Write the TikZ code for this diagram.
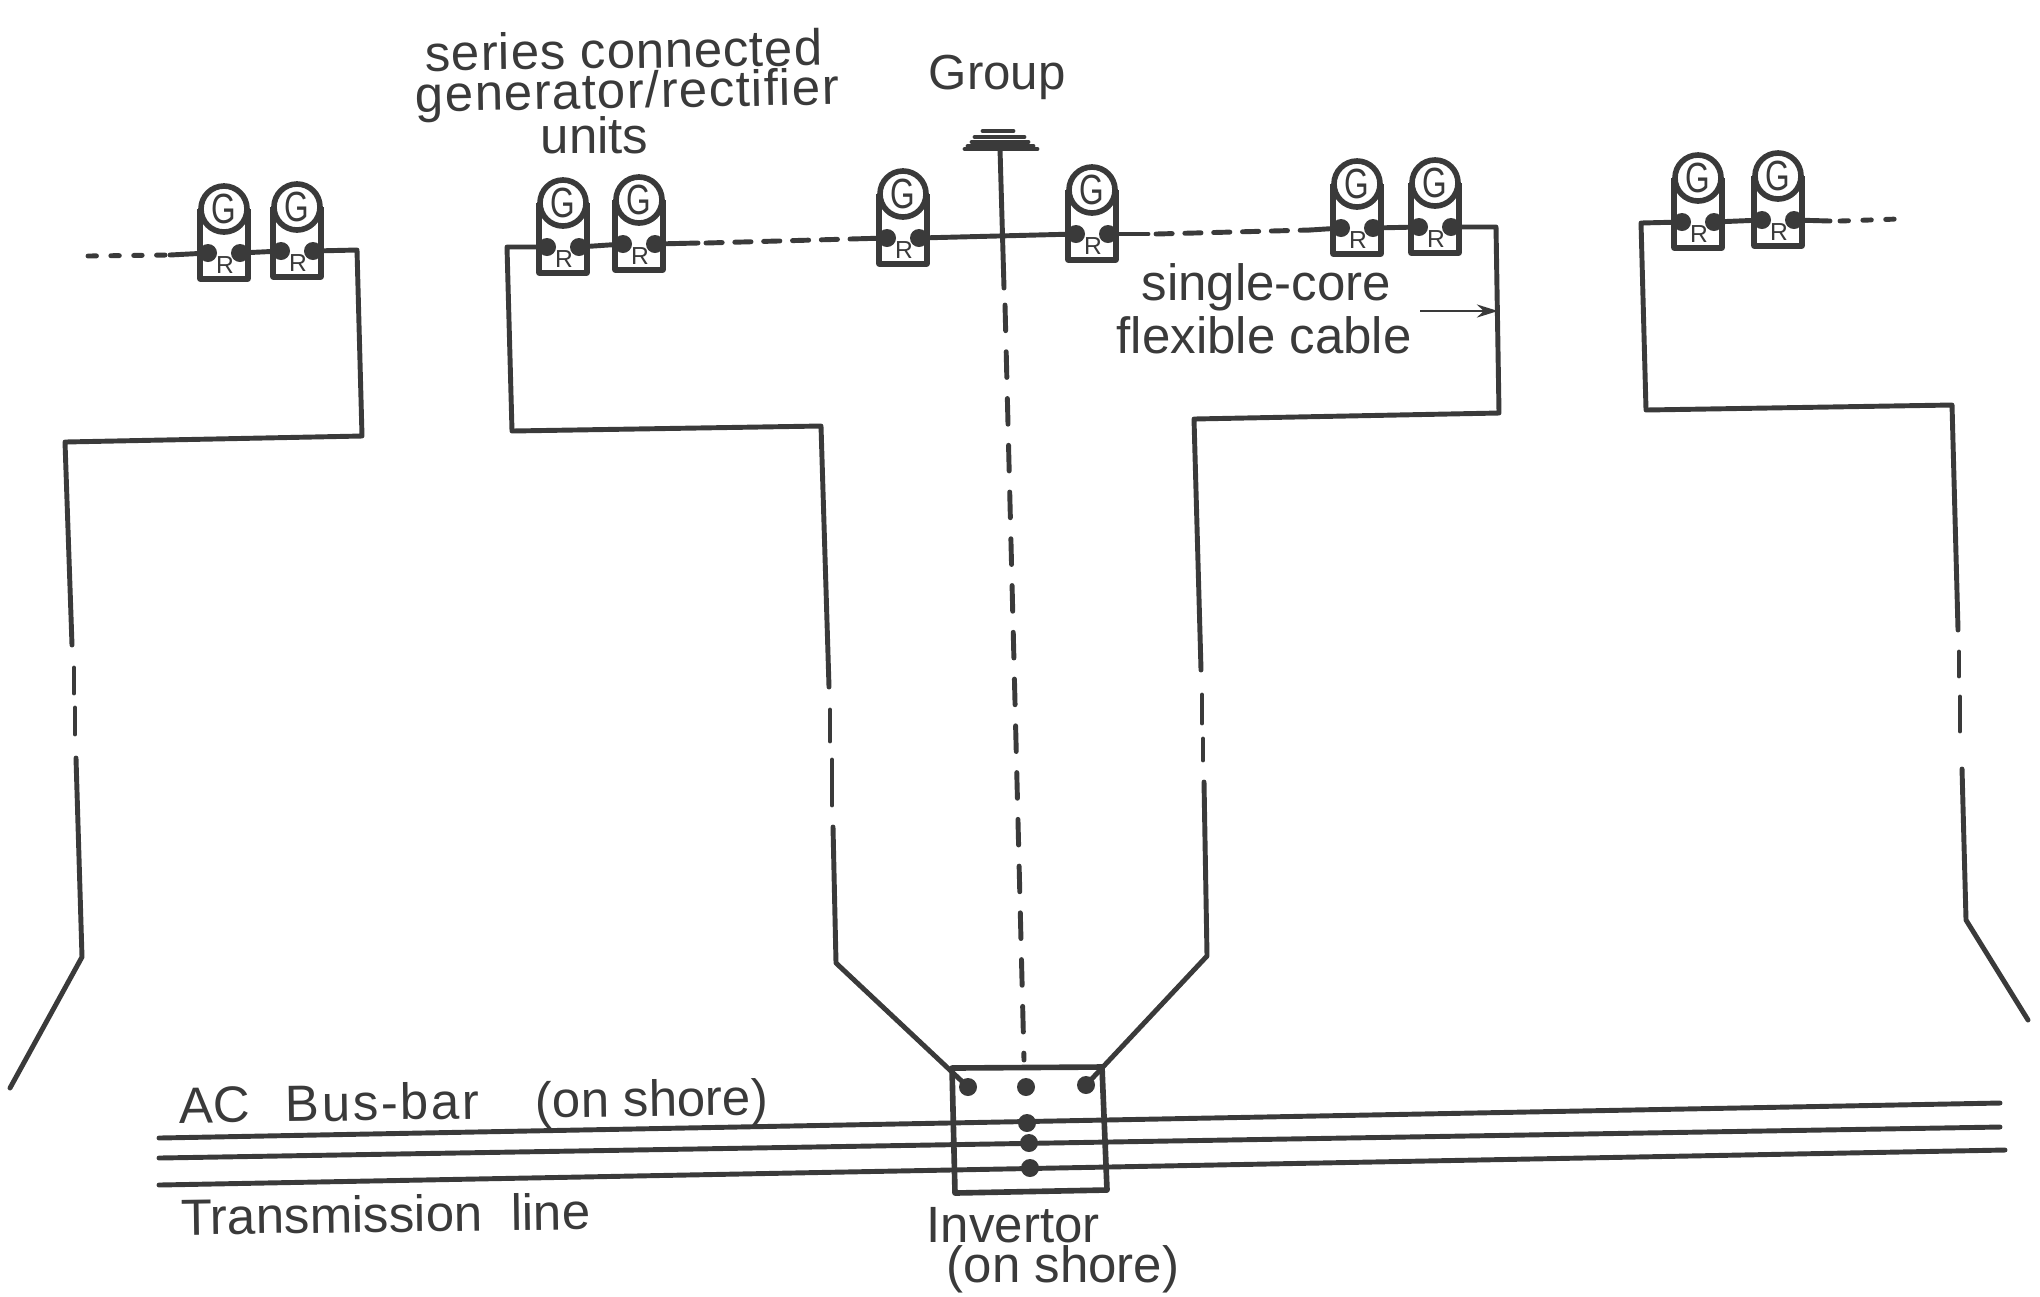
\documentclass[tikz,border=0pt]{standalone}
\usepackage{fontspec}
\setmainfont{Liberation Sans}
\newfontfamily\genletter[FakeStretch=0.75]{Liberation Sans}
\usetikzlibrary{arrows.meta}
\definecolor{sketchink}{HTML}{3A3A3A}
\newcommand{\widetext}[2]{{\addfontfeature{LetterSpace=#1}#2}}
\newcommand{\genunit}[3]{%
  \node[gencircle] (#1g) at (#2,#3) {G};
  \draw[unitbox] ([xshift=-0.24cm]#1g.center) -- ++(0,70) -- ++(48,0) -- ([xshift=0.24cm]#1g.center);
  \node[inkdot] (#1a) at (#2-16,#3+44) {};
  \node[inkdot] (#1b) at (#2+16,#3+44) {};
  \node[inner sep=0pt, font=\fontsize{7}{8}\selectfont] (#1r) at (#2+1,#3+56) {R};
}

\begin{document}
\begin{tikzpicture}[
  x=0.01cm,
  y=-0.01cm,
  every node/.style={text=sketchink},
  cable/.style={sketchink, line width=1.4pt, line cap=round, line join=round},
  broken/.style={cable, dash pattern=on 4.6pt off 3.6pt},
  sparse/.style={cable, dash pattern=on 2.4pt off 4.1pt},
  longdash/.style={cable, dash pattern=on 7.3pt off 6pt},
  unitbox/.style={sketchink, line width=1.6pt, line join=round},
  gencircle/.style={circle, draw=sketchink, line width=1.6pt, fill=white, minimum size=0.46cm,
                    inner sep=0pt, font=\genletter\fontsize{12}{12}\selectfont},
  inkdot/.style={circle, fill=sketchink, minimum size=0.18cm, inner sep=0pt},
  lettering/.style={anchor=base west, inner sep=0pt, font=\fontsize{14.5}{16}\selectfont},
  pointer/.style={sketchink, line width=0.8pt, -{Stealth[length=6pt, width=3.7pt]}}
]
  \useasboundingbox (0,0) rectangle (2040,1296);

  % ---- generator/rectifier units ----------------------------------------
  \genunit{ua}{224}{209}
  \genunit{ub}{297}{207}
  \genunit{uc}{563}{203}
  \genunit{ud}{639}{200}
  \genunit{ue}{903}{194}
  \genunit{uf}{1092}{190}
  \genunit{ug}{1357}{184}
  \genunit{uh}{1435}{183}
  \genunit{ui}{1698}{178}
  \genunit{uj}{1778}{176}

  % ---- invertor box and bus-bars ------------------------------------------
  \coordinate (boxnw) at (952,1068);
  \coordinate (boxne) at (1102,1067);
  \coordinate (boxse) at (1107,1190);
  \coordinate (boxsw) at (955,1193);
  \draw[unitbox] (boxnw) -- (boxne) -- (boxse) -- (boxsw) -- cycle;

  \coordinate (busaw) at (159,1138);
  \coordinate (busae) at (2000,1103);
  \coordinate (busbw) at (159,1158);
  \coordinate (busbe) at (2000,1127);
  \coordinate (buscw) at (159,1185);
  \coordinate (busce) at (2005,1150);
  \draw[cable] (busaw) -- (busae);
  \draw[cable] (busbw) -- (busbe);
  \draw[cable] (buscw) -- (busce);

  \node[inkdot] (inva) at (968,1087) {};
  \node[inkdot] (invb) at (1026,1087) {};
  \node[inkdot] (invc) at (1086,1085) {};
  \node[inkdot] (invd) at (1027,1123) {};
  \node[inkdot] (inve) at (1029,1143) {};
  \node[inkdot] (invf) at (1030,1168) {};

  % ---- series strings ------------------------------------------------------
  \foreach \p/\q in {ua/ub, uc/ud, ug/uh, ui/uj}
    \draw[cable] (\p b.center) -- (\q a.center);

  \coordinate (strleft) at (88,256);
  \coordinate (strlefta) at (170,255);
  \draw[sparse] (strleft) -- (strlefta);
  \draw[cable] (strlefta) -- (uaa.center);

  \coordinate (midaa) at (698,243);
  \coordinate (midab) at (850,239);
  \draw[cable] (udb.center) -- (midaa);
  \draw[broken] ([xshift=0.08cm]midaa) -- (midab);
  \draw[cable] (midab) -- (uea.center);
  \draw[cable] (ueb.center) -- (ufa.center);

  \coordinate (midba) at (1148,234);
  \coordinate (midbb) at (1310,230);
  \draw[cable] (ufb.center) -- (midba);
  \draw[broken] ([xshift=0.08cm]midba) -- (midbb);
  \draw[cable] (midbb) -- (uga.center);

  \coordinate (strright) at (1830,221);
  \coordinate (strrighta) at (1898,219);
  \draw[cable] (ujb.center) -- (strright);
  \draw[sparse] ([xshift=0.1cm]strright) -- (strrighta);

  % ---- cables down to the shore -------------------------------------------
  \draw[cable] (ubb.center) -- (357,250) -- (362,436) -- (65,442) -- (72,645);
  \draw[cable] (76,758) -- (82,957) -- (10,1088);
  \draw[cable] (uca.center) -- (507,247) -- (512,431) -- (821,426) -- (829,687);
  \draw[cable] (833,827) -- (836,963) -- (inva.center);
  \draw[cable] (uhb.center) -- (1496,227) -- (1499,413) -- (1194,419) -- (1201,670);
  \draw[cable] (1204,782) -- (1207,956) -- (invc.center);
  \draw[cable] (uia.center) -- (1641,223) -- (1646,410) -- (1952,405) -- (1958,630);
  \draw[cable] (1962,769) -- (1966,920) -- (2028,1020);

  % breaks in the long runs
  \foreach \xa/\ya/\xb/\yb in {74/668/74/693, 75/708/75/734,
                               830/710/830/741, 832/760/832/805,
                               1202/695/1202/723, 1203/739/1203/760,
                               1959/652/1959/676, 1960/697/1960/731}
    \draw[cable] (\xa,\ya) -- (\xb,\yb);

  % ---- earth and group line -------------------------------------------------
  \foreach \xa/\xb/\yy in {983/1013/131, 975/1024/137, 972/1028/142, 968/1033/146, 965/1037/149}
    \draw[cable] (\xa,\yy) -- (\xb,\yy);
  \coordinate (earthtop) at (1000,149);
  \coordinate (earthfoot) at (1004,288);
  \coordinate (grpdash) at (1005,305);
  \coordinate (grpend) at (1024,1060);
  \draw[cable] (earthtop) -- (earthfoot);
  \draw[longdash] (grpdash) -- (grpend);

  % ---- lettering ----------------------------------------------------------
  \node[lettering, rotate=0.8] (lblseries) at (425,71) {\widetext{1.6}{series connected}};
  \node[lettering, rotate=1] (lblgen) at (415,112) {\widetext{2.6}{generator/rectifier}};
  \node[lettering] (lblunits) at (540,153) {units};
  \node[lettering, font=\fontsize{14}{16}\selectfont] (lblgroup) at (928,89) {Group};
  \node[lettering] (lblsingle) at (1141,300) {single-core};
  \node[lettering] (lblflex) at (1116,353) {flexible cable};
  \node[lettering, rotate=0.8] (lblbus) at (179,1123)
    {AC\hspace{10pt}\widetext{5}{Bus-bar}\hspace{16pt}(on shore)};
  \node[lettering, rotate=0.8] (lbltrans) at (181,1235) {Transmission~~line};
  \node[lettering] (lblinv) at (926,1242) {Invertor};
  \node[lettering] (lblshore) at (946,1282) {(on shore)};

  \coordinate (arrowfoot) at (1420,311);
  \coordinate (arrowtip) at (1498,311);
  \draw[pointer] (arrowfoot) -- (arrowtip);
\end{tikzpicture}
\end{document}
